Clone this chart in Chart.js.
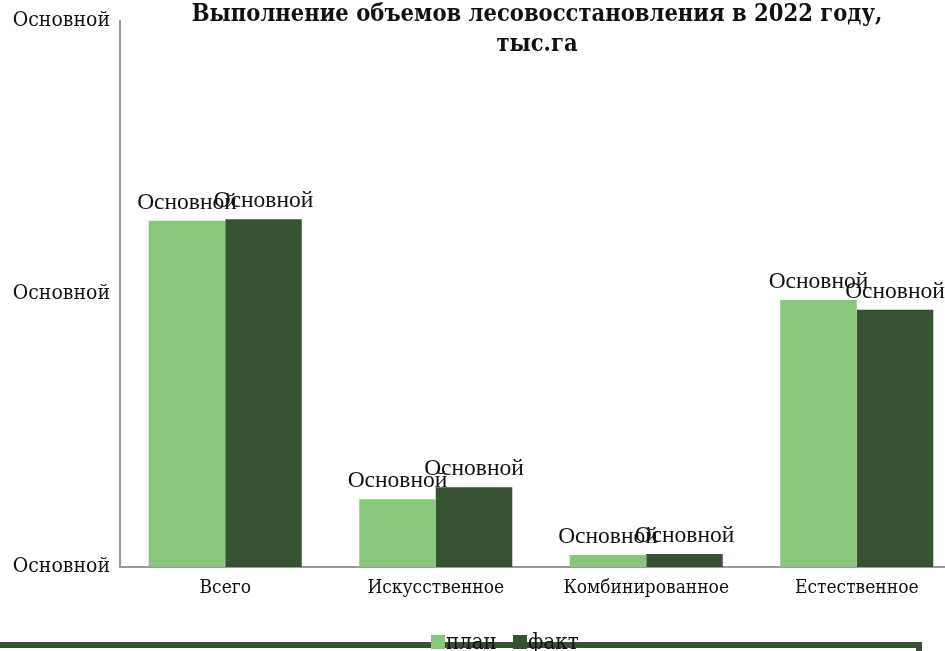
<!DOCTYPE html>
<html><head><meta charset="utf-8">
<script src="https://cdn.jsdelivr.net/npm/chart.js@4/dist/chart.umd.min.js"></script>
<style>
html,body{margin:0;padding:0;background:#fff;overflow:hidden;}
#wrap{width:945px;height:651px;overflow:hidden;position:relative;}
#box{width:965px;height:651px;position:absolute;left:0;top:0;}
</style></head><body>
<div id="wrap"><div id="box"><canvas id="c"></canvas></div></div>
<script>
const titleLines = ["Выполнение объемов лесовосстановления в 2022 году,", "тыс.га"];
const categories = ["Всего", "Искусственное", "Комбинированное", "Естественное"];
const seriesNames = ["план", "факт"];
const planValues = [63.4, 12.4, 2.2, 48.9];
const factValues = [63.7, 14.6, 2.4, 47.1];
const tickLabel = "Основной";
const dataLabel = "Основной";

const PLAN_COLOR = "#88c77b";
const FACT_COLOR = "#375233";
const CONDENSED = "'DejaVu Serif Condensed', 'DejaVu Serif', serif";

const overlay = {
  id: 'overlay',
  afterDatasetsDraw(chart) {
    const ctx = chart.ctx;
    ctx.save();
    // data labels
    ctx.font = "23.5px 'Liberation Serif', serif";
    ctx.fillStyle = "#111";
    ctx.textAlign = "center";
    ctx.textBaseline = "alphabetic";
    chart.data.datasets.forEach((ds, i) => {
      chart.getDatasetMeta(i).data.forEach(bar => {
        ctx.fillText(dataLabel, bar.x, bar.y - 12);
      });
    });
    // title
    ctx.font = "bold 23.5px " + CONDENSED;
    ctx.fillStyle = "#111";
    ctx.textBaseline = "middle";
    const cx = 537;
    ctx.fillText(titleLines[0], cx, 15);
    ctx.fillText(titleLines[1], cx, 45);
    // legend frame
    ctx.strokeStyle = "#375233";
    ctx.lineWidth = 6;
    ctx.strokeRect(-20, 645, 939, 100);
    // legend items
    ctx.font = "22px " + CONDENSED;
    ctx.textAlign = "left";
    const colors = [PLAN_COLOR, FACT_COLOR];
    const xs = [431, 513];
    seriesNames.forEach((n, i) => {
      ctx.fillStyle = colors[i];
      ctx.fillRect(xs[i], 635, 14, 14);
      ctx.fillStyle = "#111";
      ctx.fillText(n, xs[i] + 15, 643);
    });
    ctx.restore();
  }
};

new Chart(document.getElementById('c'), {
  type: 'bar',
  data: {
    labels: categories,
    datasets: [
      { label: seriesNames[0], data: planValues, backgroundColor: PLAN_COLOR },
      { label: seriesNames[1], data: factValues, backgroundColor: FACT_COLOR }
    ]
  },
  options: {
    responsive: true,
    maintainAspectRatio: false,
    animation: false,
    layout: { padding: { top: 21, right: 3, bottom: 0, left: 0 } },
    plugins: { legend: { display: false }, title: { display: false }, tooltip: { enabled: false } },
    datasets: { bar: { categoryPercentage: 0.727, barPercentage: 1.0 } },
    scales: {
      x: {
        grid: { display: false },
        border: { color: '#9a9a9a', width: 2 },
        ticks: { color: '#111', font: { family: CONDENSED, size: 19 }, padding: 2, maxRotation: 0 },
        afterFit(s) { s.height = 84; }
      },
      y: {
        min: 0, max: 100,
        grid: { display: false },
        border: { color: '#9a9a9a', width: 2 },
        ticks: { stepSize: 50, color: '#111', font: { family: CONDENSED, size: 21 }, padding: 2,
                 callback: () => tickLabel },
        afterFit(s) { s.width = 120; }
      }
    }
  },
  plugins: [overlay]
});
</script>
</body></html>
